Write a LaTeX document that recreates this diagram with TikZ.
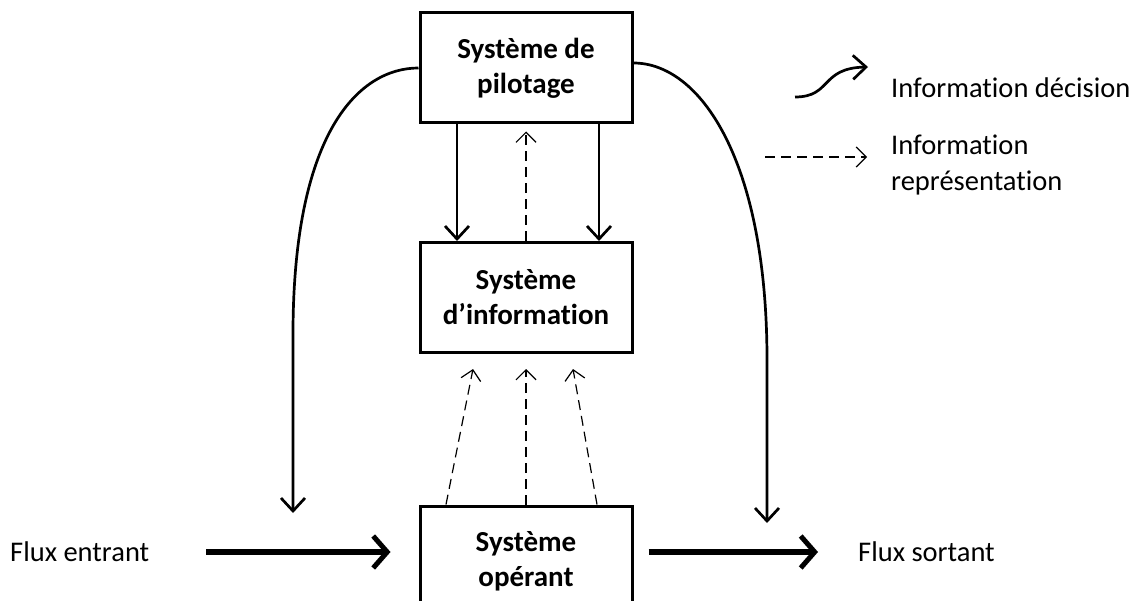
\documentclass[tikz,border=0pt]{standalone}
\usepackage{fontspec}
\setmainfont{Carlito}[Ligatures=CommonOff]
\usetikzlibrary{arrows.meta}
\begin{document}
\begin{tikzpicture}[x=1pt,y=-1pt,
  box/.style={draw,rectangle,line width=3pt,minimum width=212pt,minimum height=110pt,align=center,font=\fontsize{29}{35}\selectfont\bfseries},
  lbl/.style={anchor=west,inner sep=0pt,align=left,font=\fontsize{28.5}{36}\selectfont},
  dec/.style={line width=2.7pt,-{Straight Barb[length=13pt,width=24pt,line width=2.7pt]}},
  rep/.style={line width=1.2pt,dash pattern=on 10pt off 6pt,-{Straight Barb[length=10pt,width=20pt,line width=1.2pt]}},
  flux/.style={line width=6pt,-{Straight Barb[length=14pt,width=32pt,line width=5pt]}}]
\useasboundingbox (0,0) rectangle (1142,601);
\clip (0,0) rectangle (1142,601);
\node[box] (a) at (526,68) {Système de\\pilotage};
\node[box] (b) at (526,297.5) {Système\\d’information};
\node[box] (c) at (526,561) {Système\\opérant};
\node[lbl] (d) at (891,88) {Information décision};
\node[lbl] (e) at (891,165) {Information\\représentation};
\node[lbl] (f) at (10,552) {Flux entrant};
\node[lbl] (g) at (858,552) {Flux sortant};
\coordinate (l) at (293,513);
\coordinate (r) at (767,523);
\coordinate (m) at (795,97);
\coordinate (n) at (765,157);
\draw[dec] ([xshift=-69pt]a.south) -- ([xshift=-69pt]b.north);
\draw[dec] ([xshift=73pt]a.south) -- ([xshift=73pt]b.north);
\draw[rep] (b.north) -- ([yshift=-7pt]a.south);
\draw[rep] ([xshift=-80pt]c.north) -- ([xshift=-53pt,yshift=-15pt]b.south);
\draw[rep] (c.north) -- ([yshift=-15pt]b.south);
\draw[rep] ([xshift=71pt]c.north) -- ([xshift=47pt,yshift=-15pt]b.south);
\draw[dec] (a.west) .. controls (360,68) and (294,130) .. (293,330) -- (l);
\draw[dec] ([yshift=5pt]a.east) .. controls (700,63) and (767,160) .. (767,360) -- (r);
\draw[flux] ([xshift=57pt]f.east) -- ([xshift=-28pt]f.east -| c.west);
\draw[flux] ([xshift=15pt]g.west -| c.east) -- ([xshift=-40pt]g.west);
\draw[dec] (m) .. controls (832,97) and (820,68) .. ([xshift=-23pt,yshift=21pt]d.west);
\draw[rep] (n) -- ([xshift=-24pt]n -| e.west);
\end{tikzpicture}
\end{document}
